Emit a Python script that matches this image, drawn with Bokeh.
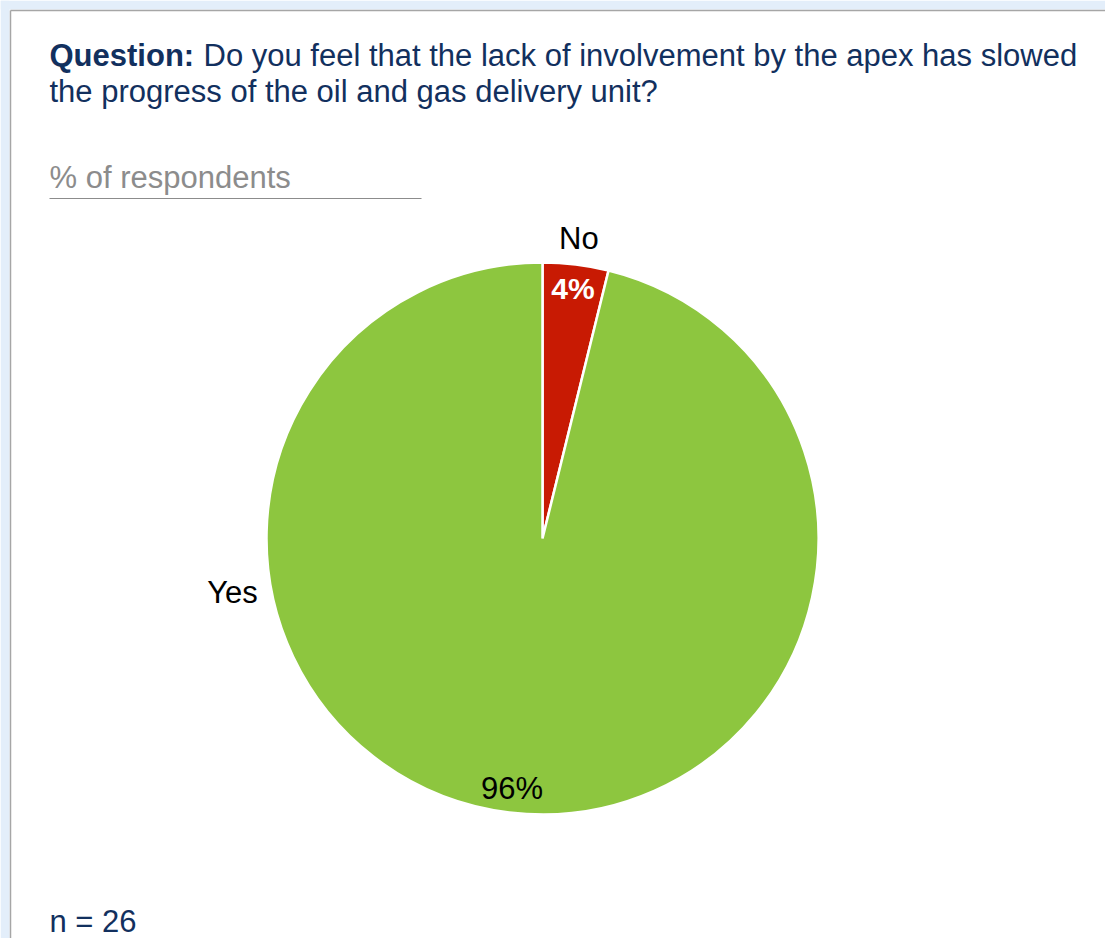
import math
from bokeh.plotting import figure
from bokeh.models import Range1d, ColumnDataSource
from bokeh.core.properties import value
from bokeh.embed import file_html
from bokeh.resources import INLINE

# ---- data ----
categories = ["No", "Yes"]          # clockwise from 12 o'clock
counts = [1, 25]
pct_labels = ["4%", "96%"]
colors = ["#c81a03", "#8dc63f"]
title_bold = "Question:"
title_line1 = "Do you feel that the lack of involvement by the apex has slowed"
title_line2 = "the progress of the oil and gas delivery unit?"
subtitle = "% of respondents"
n_label = "n = 26"

W, H = 1105, 938
FONT = "Liberation Sans"
NAVY = "#12305e"
FS = "31px"

def Y(py):  # pixel-from-top -> data y
    return H - py

p = figure(width=W, height=H, output_backend="svg", toolbar_location=None,
           x_range=Range1d(0, W), y_range=Range1d(0, H), min_border=0)
p.axis.visible = False
p.grid.visible = False
p.outline_line_color = None
p.background_fill_color = "white"
p.border_fill_color = "white"

# frame decoration (light blue glow + gray line)
p.quad(left=[0], right=[W], top=[Y(0)], bottom=[Y(9)], fill_color="#e3eefa", line_color=None)
p.quad(left=[0], right=[9], top=[Y(0)], bottom=[Y(H)], fill_color="#e3eefa", line_color=None)
p.segment(x0=[10, 10], y0=[Y(10), Y(10)], x1=[W, 10], y1=[Y(10), Y(H)],
          line_color="#a6a6a6", line_width=1.5)

def txt(x, y, s, size=FS, color=NAVY, style="normal", align="left"):
    p.text(x=[x], y=[y], text=[s], text_font=value(FONT), text_font_size=size,
           text_font_style=style, text_color=color, text_baseline="middle", text_align=align)

# titles
txt(49, Y(55), title_bold, style="bold")
txt(203, Y(55), title_line1)
txt(49, Y(91), title_line2)
txt(49, Y(177), subtitle, color="#8c8c8c")
p.segment(x0=[49], y0=[Y(198)], x1=[421], y1=[Y(198)], line_color="#8c8c8c", line_width=1.2)
txt(49, Y(921), n_label)

# pie
cx, cy, R = 542, Y(538), 276
total = sum(counts)
starts, ends, cum = [], [], 0.0
for c in counts:
    a0 = math.pi / 2 - 2 * math.pi * cum / total
    cum += c
    a1 = math.pi / 2 - 2 * math.pi * cum / total
    starts.append(a1)
    ends.append(a0)
src = ColumnDataSource(dict(start=starts, end=ends, color=colors, cat=categories))
p.wedge(x=cx, y=cy, radius=R, start_angle="start", end_angle="end", fill_color="color",
        line_color="white", line_width=2.5, source=src)

# labels
mid = [(s + e) / 2 for s, e in zip(starts, ends)]
txt(cx + 302 * math.cos(mid[0]), cy + 302 * math.sin(mid[0]), categories[0],
    color="black", align="center")
txt(cx + 252 * math.cos(mid[0]), cy + 252 * math.sin(mid[0]), pct_labels[0],
    size="30px", color="white", style="bold", align="center")
txt(232, Y(592), categories[1], color="black", align="center")
txt(cx + 252 * math.cos(mid[1]), cy + 252 * math.sin(mid[1]), pct_labels[1],
    color="black", align="center")

open("out.html", "w").write(file_html(p, INLINE))
